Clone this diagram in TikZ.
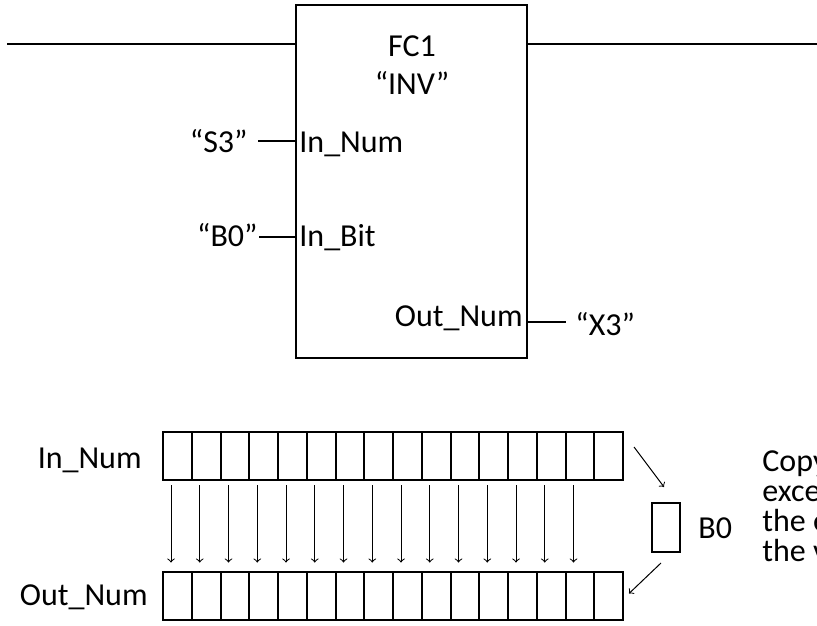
\documentclass[tikz,border=0pt]{standalone}
\usepackage{fontspec}
\setmainfont{Carlito}
\usetikzlibrary{calc}

\tikzset{
  lbl/.style={inner sep=0pt, font=\fontsize{16}{19}\selectfont},
  wire/.style={line width=1pt},
  cell/.style={draw, line width=1pt, minimum width=14.375pt, minimum height=24pt, inner sep=0pt},
  copyarrow/.style={->, line width=0.5pt},
}

\begin{document}
\begin{tikzpicture}[x=0.5pt,y=-0.5pt]
  \useasboundingbox (0,0) rectangle (817,625);
  \clip (0,0) rectangle (817,625);

  % function block
  \node (fc) [draw, line width=1pt, minimum width=115.5pt, minimum height=176.5pt, inner sep=0pt] at (411.5,181.5) {};
  \node (fcName) [lbl, anchor=base] at (412,57) {FC1};
  \node (fcType) [lbl, anchor=base] at (412,95) {“INV”};

  \coordinate (railL) at (7,44);
  \coordinate (railR) at (817,44);
  \draw[wire] (railL) -- (railL -| fc.west);
  \draw[wire] (fc.east |- railR) -- (railR);

  % pins
  \node (inNum) [lbl, anchor=base west] at (299,153) {In\_Num};
  \node (inBit) [lbl, anchor=base west] at (299,247) {In\_Bit};
  \node (outNum) [lbl, anchor=base east] at (523,326) {Out\_Num};
  \node (s3) [lbl, anchor=base east] at (248,153) {“S3”};
  \node (b0) [lbl, anchor=base east] at (258,247) {“B0”};
  \node (x3) [lbl, anchor=base west] at (575,335) {“X3”};

  \coordinate (s3lead) at ($(s3.base east)+(10,-12)$);
  \coordinate (b0lead) at ($(b0.base east)+(1,-10)$);
  \coordinate (x3lead) at ($(x3.base west)+(-9,-13)$);
  \draw[wire] (s3lead) -- (s3lead -| fc.west);
  \draw[wire] (b0lead) -- (b0lead -| fc.west);
  \draw[wire] (fc.east |- x3lead) -- (x3lead);

  % registers
  \foreach \i in {0,...,15} {
    \node (in\i) [cell] at ({177.375+28.75*\i},456) {};
    \node (out\i) [cell] at ({177.375+28.75*\i},595.5) {};
  }
  \foreach \i in {0,...,14}
    \draw[copyarrow] ($(in\i.south west)+(9,4)$) -- ($(out\i.north west)+(9,-8)$);

  \node (inLbl) [lbl, anchor=base east] at (142,468) {In\_Num};
  \node (outLbl) [lbl, anchor=base east] at (148,605) {Out\_Num};

  % the bit
  \node (bit) [draw, line width=1pt, minimum width=14pt, minimum height=24.5pt, inner sep=0pt] at (666,527.5) {};
  \node (bitLbl) [lbl, anchor=base west] at (698,538) {B0};
  \draw[copyarrow] ($(in15.north east)+(10,16)$) -- ($(bit.north)+(-2,-15)$);
  \draw[copyarrow] ($(bit.south)+(-5,10)$) -- ($(out15.east)+(5,-2)$);

  \foreach \txt [count=\i] in {{Copy In\_Num to Out\_Num}, {except for one element:}, {the element at In\_Bit gets}, {the value of B0}}
    \node (note\i) [lbl, anchor=base west] at (762,{441+30*\i}) {\txt};
\end{tikzpicture}
\end{document}
